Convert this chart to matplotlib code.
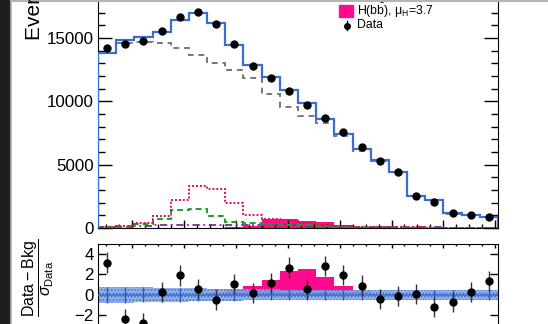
import numpy as np
import matplotlib.pyplot as plt
from matplotlib.patches import Rectangle
from matplotlib.lines import Line2D
from matplotlib.ticker import MultipleLocator, FixedLocator

plt.rcParams['font.family'] = ['Liberation Sans', 'DejaVu Sans']
plt.rcParams['mathtext.fontset'] = 'custom'
plt.rcParams['mathtext.rm'] = 'Liberation Sans'
plt.rcParams['mathtext.it'] = 'Liberation Sans:italic'
plt.rcParams['mathtext.sf'] = 'Liberation Sans'
plt.rcParams['hatch.linewidth'] = 0.8

# jet mass bins, 7 GeV wide
edges = np.arange(47, 202, 7)
centers = edges[:-1] + 3.5

data = [14195, 14560, 14770, 15560, 16690, 17040, 16110, 14510, 12800, 11850, 10820,
        9720, 8690, 7610, 6420, 5320, 4420, 2550, 2080, 1210, 1030, 890]
total = [13850, 14850, 15110, 15510, 16430, 16960, 16170, 14450, 12870, 11930, 10900,
         9870, 8600, 7420, 6240, 5370, 4450, 2550, 2210, 1160, 1030, 850]
qcd = [13800, 14640, 14720, 14580, 14190, 13660, 13050, 12450, 11850, 10550, 9590,
       8880, 8300, 7250, 6120, 5300, 4400, 2510, 2180, 1140, 1010, 835]
vjets = [50, 150, 370, 970, 2250, 3300, 3120, 2000, 1020, 680, 630,
         420, 260, 150, 100, 70, 50, 40, 30, 20, 20, 15]
wjets = [80, 110, 300, 710, 1440, 1500, 920, 510, 400, 340, 270,
         200, 150, 110, 80, 60, 40, 30, 20, 15, 10, 10]
ttbar = [80, 120, 180, 230, 250, 260, 260, 250, 240, 220, 200,
         170, 140, 110, 90, 70, 60, 50, 40, 30, 25, 20]
higgs = [0, 0, 0, 0, 0, 10, 30, 60, 120, 720, 700,
         570, 450, 230, 100, 40, 20, 10, 0, 0, 0, 0]

pull = [3.17, -2.43, -2.77, 0.3, 1.9, 0.6, -0.5, 1.07, 0.17, 1.13, 2.67,
        0.57, 2.83, 1.97, 0.9, -0.4, -0.1, 0.07, -1.23, -0.7, 0.27, 1.33]
higgs_pull = [0, 0, 0, 0, 0, 0, 0.17, 0.43, 0.9, 1.5, 2.3,
              2.57, 1.73, 0.83, 0.33, 0, 0, 0, 0, 0, 0, 0]
bkg_err = [0.8, 0.8, 0.75, 0.7, 0.7, 0.65, 0.6, 0.6, 0.55, 0.55, 0.5,
           0.5, 0.5, 0.5, 0.5, 0.5, 0.5, 0.5, 0.5, 0.5, 0.5, 0.5]

W, H = 548, 324
fig = plt.figure(figsize=(W / 100, H / 100), dpi=100)


def box(left, right, top, bottom):
    return [left / W, 1 - bottom / H, (right - left) / W, (bottom - top) / H]


blue = '#3a6fd1'
pink = '#ff0a8c'
fs_tick = 12.2

# main panel (top part runs off the canvas)
ax = fig.add_axes(box(98, 498, -30, 228))
ax.stairs(higgs, edges, fill=True, color=pink, zorder=1)
ax.stairs(ttbar, edges, color='#7b2d8e', lw=1.3, ls=(0, (4, 2, 1, 2)), zorder=2)
ax.stairs(wjets, edges, color='#1fa01f', lw=1.4, ls=(0, (3, 2)), zorder=2)
ax.stairs(vjets, edges, color='#e0104f', lw=1.4, ls=(0, (1, 1)), zorder=2)
ax.stairs(qcd, edges, color='#777777', lw=1.4, ls=(0, (3, 2.5)), zorder=3)
ax.stairs(total, edges, color=blue, lw=1.6, zorder=4)
ax.errorbar(centers, data, yerr=np.sqrt(data), fmt='o', color='black', ms=5,
            elinewidth=1, capsize=0, zorder=5)
ax.set_xlim(edges[0], edges[-1])
ax.set_ylim(0, 258 * 5000 / 63.3)
ax.yaxis.set_major_locator(FixedLocator([0, 5000, 10000, 15000]))
ax.yaxis.set_minor_locator(MultipleLocator(1000))
ax.xaxis.set_major_locator(MultipleLocator(20))
ax.xaxis.set_minor_locator(MultipleLocator(5))
ax.tick_params(axis='y', which='major', direction='in', length=10, width=1,
               labelsize=fs_tick, right=True, pad=3)
ax.tick_params(axis='y', which='minor', direction='in', length=5, width=1, right=True)
ax.tick_params(axis='x', which='major', direction='in', length=5.8, width=1, labelbottom=False)
ax.tick_params(axis='x', which='minor', direction='in', length=2.9, width=1)
ax.spines['top'].set_visible(False)

# legend (only the visible entries)
fig.add_artist(Rectangle((339 / W, 1 - 16.5 / H), 14 / W, 11 / H,
                         color=pink, transform=fig.transFigure))
fig.text(357 / W, 1 - 11 / H, r'H(b$\bar{\rm b}$), μ$_{\rm H}$=3.7',
         fontsize=8.8, va='center', ha='left')
fig.add_artist(Line2D([347 / W], [1 - 25.5 / H], marker='o', ms=4, color='black',
                      transform=fig.transFigure))
fig.add_artist(Line2D([347 / W, 347 / W], [1 - 21 / H, 1 - 30 / H], lw=1,
                      color='black', transform=fig.transFigure))
fig.text(357 / W, 1 - 25.5 / H, 'Data', fontsize=8.8, va='center', ha='left')

fig.text(35 / W, 1 - 40 / H, 'Events / 7 GeV', fontsize=15, rotation=90,
         ha='center', va='bottom')

# pull panel (bottom part runs off the canvas)
ax2 = fig.add_axes(box(98, 498, 244, 345.5))
ax2.stairs(higgs_pull, edges, fill=True, color=pink, zorder=1)
err = np.array(bkg_err)
ax2.stairs(err, edges, baseline=-err, fill=True, facecolor='#8aaae6',
           edgecolor='#3a68cc', hatch='.....', linewidth=0, alpha=0.9, zorder=2)
ax2.axhline(0, color=blue, lw=1.2, zorder=3)
ax2.vlines(centers, -err, err, color='#2b5bbf', lw=1, zorder=3)
ax2.errorbar(centers, pull, yerr=1, fmt='o', color='black', ms=5,
             elinewidth=1, ecolor='#333333', capsize=0, zorder=5)
ax2.set_xlim(edges[0], edges[-1])
ax2.set_ylim(-5, 5)
ax2.yaxis.set_major_locator(FixedLocator([-4, -2, 0, 2, 4]))
ax2.set_yticklabels(['', '−2', '0', '2', '4'])
ax2.xaxis.set_major_locator(MultipleLocator(20))
ax2.xaxis.set_minor_locator(MultipleLocator(5))
ax2.tick_params(axis='y', which='major', direction='in', length=6, width=1,
                labelsize=fs_tick, right=True, pad=3)
ax2.tick_params(axis='x', which='major', direction='in', length=3, width=1,
                top=True, labelbottom=False)
ax2.tick_params(axis='x', which='minor', direction='in', length=1.5, width=1, top=True)

fig.text(38 / W, 1 - 278 / H, r'$\dfrac{\mathrm{Data - Bkg}}{\sigma_{\mathrm{Data}}}$',
         fontsize=11.5, rotation=90, ha='center', va='center')

# screenshot frame: dark strip on the left and grey border lines
fig.add_artist(Rectangle((0, 0), 10 / W, 1, color='#1e1e1e', transform=fig.transFigure))
fig.add_artist(Line2D([11 / W, 11 / W], [0, 1], color='#b5b5b5', lw=1.2,
                      transform=fig.transFigure))
fig.add_artist(Line2D([11 / W, 1], [1 - 1 / H, 1 - 1 / H], color='#b5b5b5', lw=1.5,
                      transform=fig.transFigure))

fig.savefig('out.png', dpi=100)
